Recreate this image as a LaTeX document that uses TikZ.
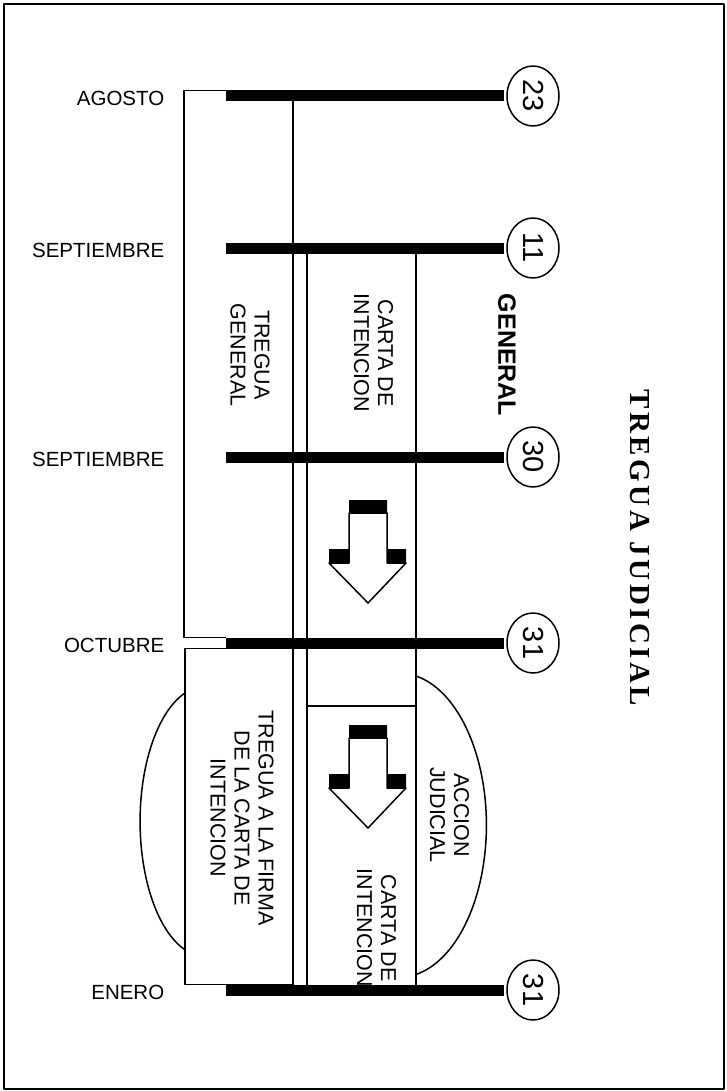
\documentclass[tikz,border=0pt]{standalone}
\usepackage{graphicx}
\usepackage{fontspec}
\setmainfont{Liberation Sans}
\newfontfamily\titlefont[LetterSpace=12]{Liberation Serif}
\usetikzlibrary{shapes.geometric}

\begin{document}
\begin{tikzpicture}[x=1pt, y=-1pt, line width=1.5pt, line join=round,
	mes/.style={anchor=east, inner sep=0pt, font=\fontsize{20.5}{24}\selectfont},
	dia/.style={draw, ellipse, inner sep=0pt, minimum width=52pt, minimum height=60pt, font=\fontsize{29}{29}\selectfont},
	barra/.style={line width=11pt, shorten >=2pt},
	rotulo/.style={rotate=-90, align=center, inner sep=0pt, font=\fontsize{21.5}{24}\selectfont}]
	\useasboundingbox (0,0) rectangle (727,1091);
	% --- Marco ---
	\draw (4,4) rectangle (724,1089);
	% --- Fechas ---
	\foreach \y/\mes/\dia [count=\i] in {96/AGOSTO/23, 248/SEPTIEMBRE/11, 457/SEPTIEMBRE/30, 643/OCTUBRE/31, 990/ENERO/31} {
		\node[mes] (m\i) at (165,\y+2) {\mes};
		\node[dia] (d\i) at (533,\y) {\rotatebox{-90}{\dia}};
		\coordinate (b\i) at (226,\y);
	}
	% --- Columnas ---
	\draw (226,90.5) -- (184,90.5) -- (184,637.5) -- (226,637.5);
	\draw (226,648.5) -- (185,648.5) -- (185,984.5) -- (293,984.5);
	\draw (293,96) -- (293,990);
	\draw (307,248) -- (307,990);
	\draw (416,248) -- (416,990);
	\draw (307,706) -- (416,706);
	% --- Elipses ---
	\draw (185,693) arc[start angle=252, end angle=108, x radius=65, y radius=135];
	\draw (416,676) arc[start angle=-79, end angle=79, x radius=87, y radius=152];
	% --- Flechas ---
	\foreach \dy in {0,225} {
		\begin{scope}[shift={(0,\dy)}]
			\fill (349,500) -- (387,500) -- (387,549) -- (406,549) -- (406,563) -- (329,563) -- (329,549) -- (349,549) -- cycle;
			\filldraw[fill=white] (349,513) -- (387,513) -- (387,563) -- (406,563) -- (368,603) -- (329,563) -- (349,563) -- cycle;
		\end{scope}
	}
	% --- Textos ---
	\node[rotulo] (tg) at (250,355) {TREGUA\\GENERAL};
	\node[rotulo] (ci1) at (373.5,353) {CARTA DE\\INTENCION};
	\node[rotulo, font=\fontsize{25}{28}\bfseries] (gen) at (507,355) {GENERAL};
	\node[rotulo] (tf) at (242,818) {TREGUA A LA FIRMA\\DE LA CARTA DE\\INTENCION};
	\node[rotulo] (aj) at (449.5,815) {ACCION\\JUDICIAL};
	\node[rotulo] (ci2) at (376.5,928) {CARTA DE\\INTENCION};
	\node[rotate=-90, font=\fontsize{29}{32}\titlefont\bfseries] (tit) at (640,548) {TREGUA JUDICIAL};
	% --- Barras ---
	\foreach \i in {1,...,5}
		\draw[barra] (b\i) -- (d\i.west);
\end{tikzpicture}
\end{document}
